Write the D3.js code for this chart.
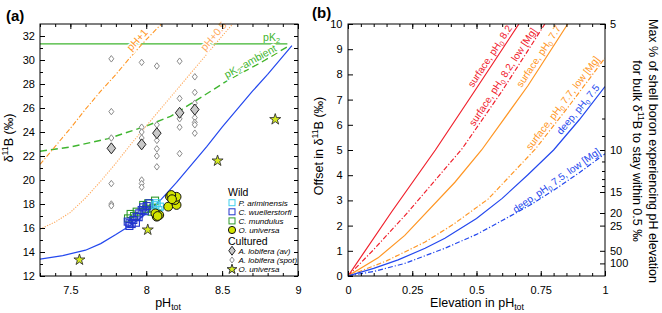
<!DOCTYPE html>
<html>
<head>
<meta charset="utf-8">
<script src="https://cdn.jsdelivr.net/npm/d3@7/dist/d3.min.js"></script>
<style>
  body { margin: 0; background: #fff; }
  #chart svg { display: block; }
</style>
</head>
<body>
<div id="chart"></div>
<script>
/* ---------- panel (a): d11B against pH ---------- */
const phTicks = [7.5, 8, 8.5, 9];
const d11bTicks = [12, 14, 16, 18, 20, 22, 24, 26, 28, 30, 32];

const boratePH   = [7.3, 7.45, 7.6, 7.7, 7.8, 7.9, 8.0, 8.1, 8.2, 8.3, 8.4, 8.5, 8.6, 8.7, 8.8, 8.96];
const borateD11B = [13.4, 13.7, 14.15, 14.7, 15.45, 16.25, 17.2, 18.4, 19.8, 21.3, 22.8, 24.4, 25.9, 27.4, 28.8, 31.2];
const halfPH     = [7.3, 7.4, 7.5, 7.6, 7.7, 7.8, 7.9, 8.0, 8.1, 8.2, 8.3, 8.4, 8.5, 8.57];
const halfD11B   = [15.9, 16.5, 17.3, 18.5, 19.9, 21.4, 23.0, 24.5, 26.0, 27.5, 29.0, 30.5, 32.0, 33.0];
const onePH      = [7.3, 7.4, 7.5, 7.6, 7.7, 7.8, 7.9, 8.0, 8.1];
const oneD11B    = [21.3, 22.8, 24.3, 25.9, 27.4, 28.8, 30.3, 31.7, 33.0];

// pK2 lines
const pK2Value = 31.35;
const pK2Range = [7.3, 8.93];
const ambientPH   = [7.3, 7.5, 7.75, 8.0, 8.16, 8.3, 8.45, 8.55, 8.75, 8.93];
const ambientD11B = [22.4, 22.75, 23.45, 24.5, 25.3, 26.4, 27.6, 28.4, 29.75, 31.1];

// wild foraminifera
const ariminensisPH   = [8.069, 8.09, 8.08, 8.06];
const ariminensisD11B = [18.06, 17.78, 17.5, 17.9];
const wuellerPH   = [7.878, 7.889, 7.904, 7.915, 7.932, 7.937, 7.954, 7.97, 7.98, 8.003, 8.02, 7.89, 7.95, 7.99];
const wuellerD11B = [16.53, 16.17, 16.33, 16.67, 16.44, 16.94, 17.22, 17.5, 17.72, 17.83, 18.06, 16.4, 16.9, 17.4];
const mundulusPH   = [7.88, 7.897, 7.937, 7.98, 8.013, 8.058, 8.046, 8.069, 8.036, 7.92, 8.0];
const mundulusD11B = [16.8, 17.17, 17.36, 17.92, 18.06, 18.28, 17.64, 17.22, 17.36, 17.0, 17.6];
const universaWildPH   = [8.069, 8.086, 8.06, 8.075, 8.145, 8.2, 8.178, 8.19, 8.156, 8.2, 8.165, 8.17];
const universaWildD11B = [16.94, 17.08, 17.22, 17.0, 17.78, 17.92, 18.61, 18.33, 18.61, 18.6, 18.75, 18.4];

// cultured
const lobiferaAvPH   = [7.77, 7.97, 8.07, 8.22, 8.32];
const lobiferaAvD11B = [22.64, 22.97, 23.9, 25.6, 25.87];
const lobiferaSpotPH   = [7.77, 7.77, 7.77, 7.77, 7.77, 7.77,
                          7.97, 7.97, 7.97, 7.97, 7.97, 7.97, 7.97,
                          8.07, 8.07, 8.07, 8.07, 8.07, 8.07,
                          8.22, 8.22, 8.22, 8.22, 8.22,
                          8.32, 8.32, 8.32, 8.32, 8.32, 8.32, 8.32];
const lobiferaSpotD11B = [30.1, 25.7, 23.5, 19.7, 18.0, 17.85,
                          29.8, 24.4, 24.0, 23.5, 20.0, 19.7, 19.4,
                          29.5, 24.6, 23.3, 22.6, 22.0, 21.1,
                          29.9, 26.8, 25.1, 24.4, 22.2,
                          28.6, 27.3, 26.4, 25.2, 24.8, 24.6, 23.9];
const universaCultPH   = [7.56, 8.01, 8.47, 8.85];
const universaCultD11B = [13.35, 15.85, 21.6, 25.05];

const legendWild = ["P. ariminensis", "C. wuellerstorfi", "C. mundulus", "O. universa"];
const legendCultured = ["A. lobifera (av)", "A. lobifera (spot)", "O. universa"];

/* ---------- panel (b): offset against elevation ---------- */
const elevTicks = [0, 0.25, 0.5, 0.75, 1];
const offsetTicks = [0, 1, 2, 3, 4, 5, 6, 7, 8, 9, 10];
const pctTicks = [5, 10, 15, 20, 25, 50, 100];
const pctMinor = [6, 7, 8, 9, 11, 12, 13, 14];

const surf82X    = [0, 0.17, 0.34, 0.5, 0.665];
const surf82Y    = [0, 2.55, 5.0, 7.45, 10];
const surf82LowX = [0, 0.1, 0.234, 0.444, 0.6, 0.766];
const surf82LowY = [0, 1.05, 2.54, 5.05, 7.35, 10];
const surf77X    = [0, 0.117, 0.221, 0.416, 0.52, 0.7, 0.855];
const surf77Y    = [0, 0.72, 1.61, 3.72, 5.0, 7.55, 10];
const surf77LowX = [0, 0.15, 0.3, 0.41, 0.545, 0.73, 0.86, 1.0];
const surf77LowY = [0, 0.6, 1.35, 2.05, 3.05, 5.05, 6.75, 8.65];
const deep75X    = [0, 0.1, 0.195, 0.3, 0.377, 0.5, 0.6, 0.7, 0.8, 0.9, 1.0];
const deep75Y    = [0, 0.3, 0.64, 1.1, 1.5, 2.28, 3.08, 4.02, 5.0, 6.2, 7.52];
const deep75LowX = [0, 0.1, 0.221, 0.377, 0.5, 0.6, 0.714, 0.8, 0.9, 1.0];
const deep75LowY = [0, 0.18, 0.5, 1.1, 1.65, 2.2, 2.85, 3.4, 4.1, 4.85];

const seriesLabels = ["surface, pH_{0} 8.2", "surface, pH_{0} 8.2, low [Mg]", "surface, pH_{0} 7.7",
                      "surface, pH_{0} 7.7, low [Mg]", "deep, pH_{0} 7.5", "deep, pH_{0} 7.5, low [Mg]"];
const labelEnds = [0.65, 0.745, 0.84, 0.99, 0.99, 0.99];


const FONT = '"Liberation Sans", Arial, Helvetica, sans-serif';
const RED = "#f0202c", ORANGE = "#ff9624", BLUE = "#2448ee", GREEN = "#3fb52f";

const svg = d3.select("#chart").append("svg")
    .attr("width", 662).attr("height", 313)
    .attr("font-family", FONT);

// text with _{sub} and ^{sup} parts
function richText(sel, str, size) {
    const re = /([_^])\{([^}]*)\}/g;
    let last = 0, m, shift = 0;
    const add = (txt, fs, dy) => {
        const t = sel.append("tspan").text(txt);
        if (fs) t.attr("font-size", fs);
        if (dy) t.attr("dy", dy);
    };
    while ((m = re.exec(str)) !== null) {
        if (m.index > last) { add(str.slice(last, m.index), null, -shift); shift = 0; }
        const d = m[1] === "_" ? size * 0.22 : -size * 0.38;
        add(m[2], size * 0.7, d - shift);
        shift = d;
        last = re.lastIndex;
    }
    if (last < str.length) add(str.slice(last), null, -shift);
    return sel;
}

// point on a polyline, its direction, pushed off to the upper side
function placeAlong(xs, ys, endX, span, off, x, y) {
    const f = d3.scaleLinear().domain(xs).range(ys);
    const px = x(endX), py = y(f(endX));
    const qx = x(endX - span), qy = y(f(endX - span));
    const a = Math.atan2(py - qy, px - qx);
    return { x: px + off * Math.sin(a), y: py - off * Math.cos(a), deg: a * 180 / Math.PI };
}

// frame plus inward ticks on all four sides
function drawFrame(g, x, y, o) {
    const [x0, x1] = x.range(), [y0, y1] = y.range();
    const tidy = a => {
        a.select(".domain").remove();
        a.attr("font-family", FONT).attr("font-size", 11);
        a.selectAll("line").attr("stroke", "#000");
        a.selectAll("text").attr("fill", "#000");
    };
    g.append("g").attr("transform", `translate(0,${y0})`)
        .call(d3.axisBottom(x).tickValues(o.xMajor).tickSize(-5).tickPadding(10).tickFormat(o.xFormat)).call(tidy);
    g.append("g").attr("transform", `translate(0,${y0})`)
        .call(d3.axisBottom(x).tickValues(o.xMinor).tickSize(-3).tickFormat("")).call(tidy);
    g.append("g").attr("transform", `translate(0,${y1})`)
        .call(d3.axisTop(x).tickValues(o.xMajor).tickSize(-5).tickFormat("")).call(tidy);
    g.append("g").attr("transform", `translate(0,${y1})`)
        .call(d3.axisTop(x).tickValues(o.xMinor).tickSize(-3).tickFormat("")).call(tidy);
    g.append("g").attr("transform", `translate(${x0},0)`)
        .call(d3.axisLeft(y).tickValues(o.yMajor).tickSize(-5).tickPadding(o.yPad).tickFormat(d3.format("d"))).call(tidy);
    if (o.yMinor) g.append("g").attr("transform", `translate(${x0},0)`)
        .call(d3.axisLeft(y).tickValues(o.yMinor).tickSize(-3).tickFormat("")).call(tidy);
    if (o.right) o.right(g, tidy);
    g.append("rect")
        .attr("x", x0).attr("y", y1).attr("width", x1 - x0).attr("height", y0 - y1)
        .attr("fill", "none").attr("stroke", "#000").attr("stroke-width", 1);
}

function lineOf(xs, ys, x, y) {
    return d3.line().x(d => x(d[0])).y(d => y(d[1]))(xs.map((v, i) => [v, ys[i]]));
}

function diamond(w, h) {
    return `M0,${-h / 2}L${w / 2},0L0,${h / 2}L${-w / 2},0Z`;
}

/* ================= panel (a) ================= */
{
    const x = d3.scaleLinear().domain([7.3, 9]).range([40, 298]);
    const y = d3.scaleLinear().domain([12, 33]).range([276, 24]);
    const g = svg.append("g");

    svg.append("clipPath").attr("id", "clipA").append("rect")
        .attr("x", 40).attr("y", 24).attr("width", 258).attr("height", 252);
    const plot = g.append("g").attr("clip-path", "url(#clipA)");

    // pK2 line first, so label halos can break it
    plot.append("path").attr("d", lineOf(pK2Range, [pK2Value, pK2Value], x, y))
        .attr("fill", "none").attr("stroke", GREEN).attr("stroke-width", 1.2);

    const labA = [
        { xs: onePH, ys: oneD11B, end: 8.03, span: 0.1, off: 3, text: "pH+1", color: ORANGE },
        { xs: halfPH, ys: halfD11B, end: 8.55, span: 0.15, off: 3, text: "pH+0.5", color: "#ffa85a" },
        { xs: ambientPH, ys: ambientD11B, end: 8.87, span: 0.3, off: 2, text: "pK_{2}-ambient", color: GREEN }
    ];
    labA.forEach(l => {
        const p = placeAlong(l.xs, l.ys, l.end, l.span, l.off, x, y);
        richText(g.append("text")
            .attr("transform", `translate(${p.x},${p.y}) rotate(${p.deg})`)
            .attr("text-anchor", "end").attr("font-size", 10.5)
            .attr("fill", "none").attr("stroke", "#fff").attr("stroke-width", 3), l.text, 10.5);
    });

    plot.append("path").attr("d", lineOf(ambientPH, ambientD11B, x, y))
        .attr("fill", "none").attr("stroke", GREEN).attr("stroke-width", 1.4).attr("stroke-dasharray", "7,4");
    plot.append("path").attr("d", lineOf(onePH, oneD11B, x, y))
        .attr("fill", "none").attr("stroke", ORANGE).attr("stroke-width", 1.1).attr("stroke-dasharray", "5,2,1.2,2");
    plot.append("path").attr("d", lineOf(halfPH, halfD11B, x, y))
        .attr("fill", "none").attr("stroke", "#ffa85a").attr("stroke-width", 1.1).attr("stroke-dasharray", "1.2,1.4");
    plot.append("path").attr("d", lineOf(boratePH, borateD11B, x, y))
        .attr("fill", "none").attr("stroke", BLUE).attr("stroke-width", 1.2);

    labA.forEach(l => {
        const p = placeAlong(l.xs, l.ys, l.end, l.span, l.off, x, y);
        richText(g.append("text")
            .attr("transform", `translate(${p.x},${p.y}) rotate(${p.deg})`)
            .attr("text-anchor", "end").attr("font-size", 10.5).attr("fill", l.color), l.text, 10.5);
    });
    richText(g.append("text").attr("x", x(8.77)).attr("y", y(pK2Value) - 3)
        .attr("font-size", 10.5).attr("fill", GREEN), "pK_{2}", 10.5);

    // points
    const pts = (xs, ys) => xs.map((v, i) => [v, ys[i]]);
    g.selectAll(".spot").data(pts(lobiferaSpotPH, lobiferaSpotD11B)).join("path")
        .attr("transform", d => `translate(${x(d[0])},${y(d[1])})`)
        .attr("d", diamond(5, 6.5)).attr("fill", "#fff").attr("stroke", "#8a8a8a").attr("stroke-width", 1);
    g.selectAll(".av").data(pts(lobiferaAvPH, lobiferaAvD11B)).join("path")
        .attr("transform", d => `translate(${x(d[0])},${y(d[1])})`)
        .attr("d", diamond(8.5, 11)).attr("fill", "#c9c9c9").attr("stroke", "#222").attr("stroke-width", 1);

    const squares = (xs, ys, color) => g.append("g").selectAll("rect").data(pts(xs, ys)).join("rect")
        .attr("x", d => x(d[0]) - 3.5).attr("y", d => y(d[1]) - 3.5)
        .attr("width", 7).attr("height", 7)
        .attr("fill", "none").attr("stroke", color).attr("stroke-width", 1.1);
    squares(mundulusPH, mundulusD11B, "#2f9a2a");
    squares(wuellerPH, wuellerD11B, "#2233cc");
    squares(ariminensisPH, ariminensisD11B, "#40d0ee");

    g.append("g").selectAll("circle").data(pts(universaWildPH, universaWildD11B)).join("circle")
        .attr("cx", d => x(d[0])).attr("cy", d => y(d[1])).attr("r", 4.4)
        .attr("fill", "#d2e400").attr("stroke", "#111").attr("stroke-width", 1);

    const star = d3.symbol(d3.symbolStar);
    g.append("g").selectAll("path").data(pts(universaCultPH, universaCultD11B)).join("path")
        .attr("transform", d => `translate(${x(d[0])},${y(d[1])})`)
        .attr("d", star.size(38)()).attr("fill", "#d6ec1e").attr("stroke", "#333").attr("stroke-width", 0.9);

    drawFrame(g, x, y, {
        xMajor: phTicks, xMinor: d3.range(7.3, 9.001, 0.1), xFormat: d3.format("~g"),
        yMajor: d11bTicks, yMinor: d3.range(13, 33, 2), yPad: 5,
        right: (gg, tidy) => {
            gg.append("g").attr("transform", "translate(298,0)")
                .call(d3.axisRight(y).tickValues(d3.range(12, 34, 1)).tickSize(-4).tickFormat("")).call(tidy);
        }
    });

    // legend
    const lg = g.append("g").attr("transform", "translate(232,0)");
    lg.append("text").attr("x", -4).attr("y", 196).attr("font-size", 10.5).text("Wild");
    const wildSym = [
        s => s.append("rect").attr("x", -3).attr("y", -3).attr("width", 6).attr("height", 6).attr("fill", "none").attr("stroke", "#40d0ee"),
        s => s.append("rect").attr("x", -3).attr("y", -3).attr("width", 6).attr("height", 6).attr("fill", "none").attr("stroke", "#2233cc"),
        s => s.append("rect").attr("x", -3).attr("y", -3).attr("width", 6).attr("height", 6).attr("fill", "none").attr("stroke", "#2f9a2a"),
        s => s.append("circle").attr("r", 3.6).attr("fill", "#d2e400").attr("stroke", "#111")
    ];
    legendWild.forEach((name, i) => {
        const row = lg.append("g").attr("transform", `translate(0,${202.7 + i * 9.1})`);
        wildSym[i](row);
        row.append("text").attr("x", 6.5).attr("y", 3).attr("font-size", 8).attr("font-style", "italic").text(name);
    });
    lg.append("text").attr("x", -4).attr("y", 245).attr("font-size", 10.5).text("Cultured");
    const cultSym = [
        s => s.append("path").attr("d", diamond(6.5, 9)).attr("fill", "#c9c9c9").attr("stroke", "#222"),
        s => s.append("path").attr("d", diamond(4.5, 6)).attr("fill", "#fff").attr("stroke", "#8a8a8a"),
        s => s.append("path").attr("d", star.size(30)()).attr("fill", "#d6ec1e").attr("stroke", "#333")
    ];
    legendCultured.forEach((name, i) => {
        const row = lg.append("g").attr("transform", `translate(0,${250.7 + i * 9.3})`);
        cultSym[i](row);
        row.append("text").attr("x", 6.5).attr("y", 3).attr("font-size", 8).attr("font-style", "italic").text(name);
    });

    // titles
    g.append("text").attr("x", 6).attr("y", 21).attr("font-size", 15).attr("font-weight", "bold").text("(a)");
    richText(g.append("text").attr("x", 168).attr("y", 307).attr("text-anchor", "middle").attr("font-size", 12.5), "pH_{tot}", 12.5);
    richText(g.append("text").attr("transform", "translate(13,138) rotate(-90)")
        .attr("text-anchor", "middle").attr("font-size", 12.5), "δ^{11}B (‰)", 12.5);
}

/* ================= panel (b) ================= */
{
    const x = d3.scaleLinear().domain([0, 1]).range([348, 605]);
    const y = d3.scaleLinear().domain([0, 10]).range([276, 24]);
    const g = svg.append("g");

    svg.append("clipPath").attr("id", "clipB").append("rect")
        .attr("x", 348).attr("y", 24).attr("width", 257).attr("height", 252);
    const plot = g.append("g").attr("clip-path", "url(#clipB)");

    const series = [
        { xs: surf82X, ys: surf82Y, color: RED, dash: null },
        { xs: surf82LowX, ys: surf82LowY, color: RED, dash: "5,2,1.2,2" },
        { xs: surf77X, ys: surf77Y, color: ORANGE, dash: null },
        { xs: surf77LowX, ys: surf77LowY, color: ORANGE, dash: "5,2,1.2,2" },
        { xs: deep75X, ys: deep75Y, color: BLUE, dash: null },
        { xs: deep75LowX, ys: deep75LowY, color: BLUE, dash: "5,2,1.2,2" }
    ];
    series.forEach((s, i) => {
        plot.append("path").attr("d", lineOf(s.xs, s.ys, x, y))
            .attr("fill", "none").attr("stroke", s.color).attr("stroke-width", 1.2)
            .attr("stroke-dasharray", s.dash);
        const p = placeAlong(s.xs, s.ys, labelEnds[i], 0.2, 3, x, y);
        richText(g.append("text")
            .attr("transform", `translate(${p.x},${p.y}) rotate(${p.deg})`)
            .attr("text-anchor", "end").attr("font-size", 10).attr("fill", s.color), seriesLabels[i], 10);
    });

    drawFrame(g, x, y, {
        xMajor: elevTicks, xMinor: d3.range(0, 1.001, 0.05), xFormat: d3.format("~g"),
        yMajor: offsetTicks, yMinor: null, yPad: 5.5,
        right: (gg, tidy) => {
            gg.append("g").attr("transform", "translate(605,0)")
                .call(d3.axisRight(y).tickValues(pctTicks.map(p => 50 / p)).tickSize(-5).tickPadding(5)
                    .tickFormat(d => Math.round(50 / d))).call(tidy);
            gg.append("g").attr("transform", "translate(605,0)")
                .call(d3.axisRight(y).tickValues(pctMinor.map(p => 50 / p)).tickSize(-3).tickFormat("")).call(tidy);
        }
    });

    g.append("text").attr("x", 312).attr("y", 18).attr("font-size", 15).attr("font-weight", "bold").text("(b)");
    richText(g.append("text").attr("x", 477).attr("y", 307).attr("text-anchor", "middle").attr("font-size", 12.5),
        "Elevation in pH_{tot}", 12.5);
    richText(g.append("text").attr("transform", "translate(323,146) rotate(-90)")
        .attr("text-anchor", "middle").attr("font-size", 12.5), "Offset in δ^{11}B (‰)", 12.5);
    g.append("text").attr("transform", "translate(649,151) rotate(90)")
        .attr("text-anchor", "middle").attr("font-size", 12.5)
        .text("Max % of shell boron experiencing pH elevation");
    richText(g.append("text").attr("transform", "translate(633,151) rotate(90)")
        .attr("text-anchor", "middle").attr("font-size", 12.5), "for bulk δ^{11}B to stay within 0.5 ‰", 12.5);
}
</script>
</body>
</html>
